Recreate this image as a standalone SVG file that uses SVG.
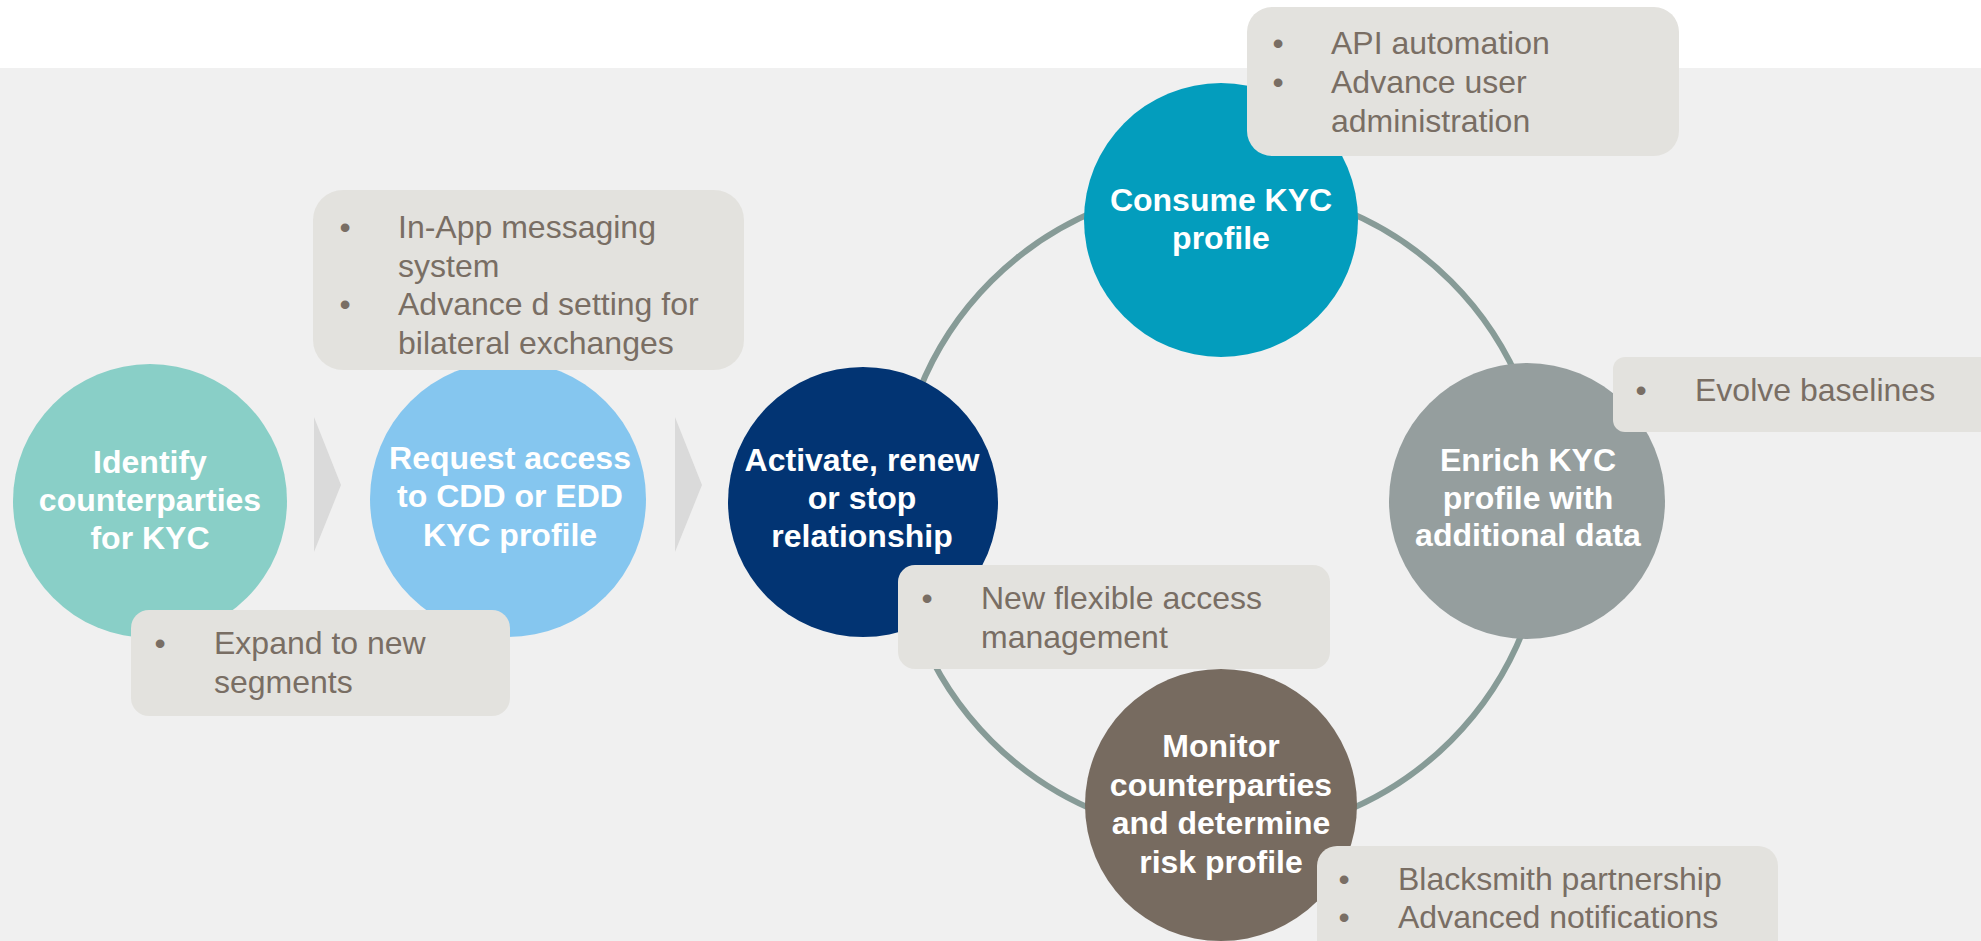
<svg xmlns="http://www.w3.org/2000/svg" width="1981" height="941" viewBox="0 0 1981 941">
  <style>
    .node-title { font-family: "Liberation Sans", Arial, sans-serif; font-size: 32px; font-weight: bold; fill: #ffffff; text-anchor: middle; }
    .note-box { fill: #e3e2de; }
    .note { font-family: "Liberation Sans", Arial, sans-serif; font-size: 32px; fill: #796e64; }
    .dot { font-family: "Liberation Sans", Arial, sans-serif; font-size: 32px; fill: #796e64; text-anchor: middle; }
    .chevron { fill: #dadada; }
    .ring { fill: none; stroke: #879b97; stroke-width: 6; }
  </style>

  <!-- page background -->
  <rect x="0" y="0" width="1981" height="941" fill="#ffffff"/>
  <rect x="0" y="68" width="1981" height="873" fill="#f0f0f0"/>

  <!-- connectors: lifecycle ring and step chevrons -->
  <g id="connectors">
    <circle class="ring" cx="1221" cy="511" r="325"/>
    <polygon class="chevron" points="314,417 341,485 314,552"/>
    <polygon class="chevron" points="675,417 702,485 675,552"/>
  </g>

  <!-- process steps -->
  <g id="node-identify">
    <circle cx="150" cy="501" r="137" fill="#89cfc7"/>
    <text class="node-title" x="150" y="473">Identify</text>
    <text class="node-title" x="150" y="511">counterparties</text>
    <text class="node-title" x="150" y="549">for KYC</text>
  </g>

  <g id="node-request">
    <circle cx="508" cy="499" r="138" fill="#85c6ef"/>
    <text class="node-title" x="510" y="469">Request access</text>
    <text class="node-title" x="510" y="507">to CDD or EDD</text>
    <text class="node-title" x="510" y="546">KYC profile</text>
  </g>

  <g id="node-activate">
    <circle cx="863" cy="502" r="135" fill="#023473"/>
    <text class="node-title" x="862" y="471">Activate, renew</text>
    <text class="node-title" x="862" y="509">or stop</text>
    <text class="node-title" x="862" y="547">relationship</text>
  </g>

  <g id="node-consume">
    <circle cx="1221" cy="220" r="137" fill="#039dbd"/>
    <text class="node-title" x="1221" y="211">Consume KYC</text>
    <text class="node-title" x="1221" y="249">profile</text>
  </g>

  <g id="node-enrich">
    <circle cx="1527" cy="501" r="138" fill="#959e9e"/>
    <text class="node-title" x="1528" y="471">Enrich KYC</text>
    <text class="node-title" x="1528" y="509">profile with</text>
    <text class="node-title" x="1528" y="546">additional data</text>
  </g>

  <g id="node-monitor">
    <circle cx="1221" cy="805" r="136" fill="#776b60"/>
    <text class="node-title" x="1221" y="757">Monitor</text>
    <text class="node-title" x="1221" y="796">counterparties</text>
    <text class="node-title" x="1221" y="834">and determine</text>
    <text class="node-title" x="1221" y="873">risk profile</text>
  </g>

  <!-- feature callouts -->
  <g id="note-messaging">
    <rect class="note-box" x="313" y="190" width="431" height="180" rx="30"/>
    <text class="dot" x="345" y="238">•</text>
    <text class="note" x="398" y="238">In-App messaging</text>
    <text class="note" x="398" y="276.5">system</text>
    <text class="dot" x="345" y="315">•</text>
    <text class="note" x="398" y="315">Advance d setting for</text>
    <text class="note" x="398" y="353.5">bilateral exchanges</text>
  </g>

  <g id="note-segments">
    <rect class="note-box" x="131" y="610" width="379" height="106" rx="18"/>
    <text class="dot" x="160" y="654">•</text>
    <text class="note" x="214" y="654">Expand to new</text>
    <text class="note" x="214" y="692.5">segments</text>
  </g>

  <g id="note-api">
    <rect class="note-box" x="1247" y="7" width="432" height="149" rx="25"/>
    <text class="dot" x="1278" y="54">•</text>
    <text class="note" x="1331" y="54">API automation</text>
    <text class="dot" x="1278" y="93">•</text>
    <text class="note" x="1331" y="93">Advance user</text>
    <text class="note" x="1331" y="131.5">administration</text>
  </g>

  <g id="note-baselines">
    <rect class="note-box" x="1613" y="357" width="400" height="75" rx="12"/>
    <text class="dot" x="1641" y="401">•</text>
    <text class="note" x="1695" y="401">Evolve baselines</text>
  </g>

  <g id="note-access">
    <rect class="note-box" x="898" y="565" width="432" height="104" rx="17"/>
    <text class="dot" x="927" y="609">•</text>
    <text class="note" x="981" y="609">New flexible access</text>
    <text class="note" x="981" y="648">management</text>
  </g>

  <g id="note-monitoring">
    <rect class="note-box" x="1317" y="846" width="461" height="130" rx="20"/>
    <text class="dot" x="1344" y="890">•</text>
    <text class="note" x="1398" y="890">Blacksmith partnership</text>
    <text class="dot" x="1344" y="928">•</text>
    <text class="note" x="1398" y="928">Advanced notifications</text>
  </g>
</svg>
